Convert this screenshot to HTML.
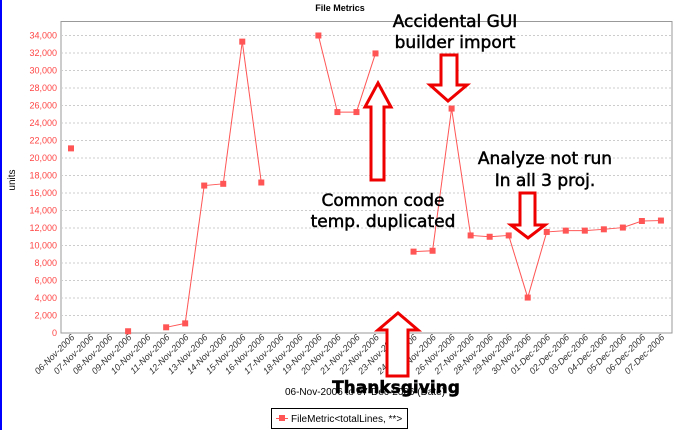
<!DOCTYPE html>
<html><head><meta charset="utf-8"><style>
body{margin:0;background:#fff;}
svg{display:block;font-family:"Liberation Sans",sans-serif;}
.ann{font-family:"DejaVu Sans",sans-serif;font-size:17px;fill:#000;stroke:#000;stroke-width:0.5;}
</style></head><body>
<svg id="chart" width="680" height="430">
<rect x="0" y="0" width="2" height="430" fill="#0000ff"/>
<text x="340" y="11" font-size="9" font-weight="bold" text-anchor="middle">File Metrics</text>
<rect x="61" y="21.5" width="611" height="311.5" fill="none" stroke="#999"/>
<g id="grid"></g><g id="yticks"></g><g id="xticks"></g><g id="series"></g>
<text transform="translate(15,180) rotate(-90)" font-size="10" text-anchor="middle">units</text>
<text x="365" y="395" font-size="10" text-anchor="middle">06-Nov-2006 to 07-Dec-2006 (Date)</text>
<g>
<rect x="271.5" y="408.5" width="136" height="20" fill="#fff" stroke="#000"/>
<line x1="276" y1="418.5" x2="288" y2="418.5" stroke="#f55"/>
<rect x="279" y="415" width="6" height="6" fill="#f55"/>
<text x="291" y="422" font-size="10">FileMetric&lt;totalLines, **&gt;</text>
</g>
<g fill="#fff" stroke="#e00" stroke-width="3">
<path d="M441,55 H457 V85 H467 L448,101 L430,85 H441 Z"/>
<path d="M371,180 V107 H365 L378,83 L391,107 H384 V180 Z"/>
<path d="M520,193 H535 V225 H545 L528,238 L511,225 H520 Z"/>
<path d="M387,376 V330 H378 L398,313 L418,330 H408 V376 Z"/>
</g>
<text class="ann" x="455" y="27" text-anchor="middle">Accidental GUI</text>
<text class="ann" x="455" y="48" text-anchor="middle">builder import</text>
<text class="ann" x="383" y="206" text-anchor="middle">Common code</text>
<text class="ann" x="383" y="227" text-anchor="middle">temp. duplicated</text>
<text class="ann" x="545" y="164" text-anchor="middle">Analyze not run</text>
<text class="ann" x="545" y="186" text-anchor="middle">In all 3 proj.</text>
<text class="ann" x="396" y="393" text-anchor="middle" font-weight="bold" font-size="18">Thanksgiving</text>
</svg>
<script>
const categories=["06-Nov-2006","07-Nov-2006","08-Nov-2006","09-Nov-2006","10-Nov-2006","11-Nov-2006","12-Nov-2006","13-Nov-2006","14-Nov-2006","15-Nov-2006","16-Nov-2006","17-Nov-2006","18-Nov-2006","19-Nov-2006","20-Nov-2006","21-Nov-2006","22-Nov-2006","23-Nov-2006","24-Nov-2006","25-Nov-2006","26-Nov-2006","27-Nov-2006","28-Nov-2006","29-Nov-2006","30-Nov-2006","01-Dec-2006","02-Dec-2006","03-Dec-2006","04-Dec-2006","05-Dec-2006","06-Dec-2006","07-Dec-2006"];
const values=[21100,null,null,200,null,650,1100,16850,17050,33300,17200,null,null,34000,25250,25250,31950,null,9300,9400,25650,11150,11000,11150,4050,11550,11700,11700,11850,12050,12800,12850];
const yTicks=[0,2000,4000,6000,8000,10000,12000,14000,16000,18000,20000,22000,24000,26000,28000,30000,32000,34000];
const yTickLabels=["0","2,000","4,000","6,000","8,000","10,000","12,000","14,000","16,000","18,000","20,000","22,000","24,000","26,000","28,000","30,000","32,000","34,000"];
const NS="http://www.w3.org/2000/svg";
const xs=i=>71+i*19.03;
const ys=v=>333-v*(297.5/34000);
function mk(t,a,p){const e=document.createElementNS(NS,t);for(const k in a)e.setAttribute(k,a[k]);p.appendChild(e);return e;}
const g=document.getElementById('grid'),yt=document.getElementById('yticks'),xt=document.getElementById('xticks'),s=document.getElementById('series');
yTicks.forEach((v,i)=>{
  if(v>0){const l=mk('line',{x1:61,x2:672,y1:ys(v),y2:ys(v),stroke:'#ccc','stroke-dasharray':'2,2'},g);
  
  }
  const t=mk('text',{x:57,y:ys(v)+3,'font-size':9,fill:'#f44','text-anchor':'end'},yt);
  t.textContent=yTickLabels[i];
  
  
});
categories.forEach((c,i)=>{
  const t=mk('text',{transform:`translate(${xs(i)+4},338) rotate(-45)`,'font-size':9,fill:'#333','text-anchor':'end','font-style':'italic'},xt);
  t.textContent=c;
  
  
});
for(let i=1;i<values.length;i++){
  if(values[i]!=null&&values[i-1]!=null){
    const l=mk('line',{x1:xs(i-1),y1:ys(values[i-1]),x2:xs(i),y2:ys(values[i]),stroke:'#f55','stroke-width':1},s);
    
    
  }
}
values.forEach((v,i)=>{
  if(v==null)return;
  const r=mk('rect',{x:xs(i)-3,y:ys(v)-3,width:6,height:6,fill:'#f55'},s);
  
  
});
</script>
</body></html>
